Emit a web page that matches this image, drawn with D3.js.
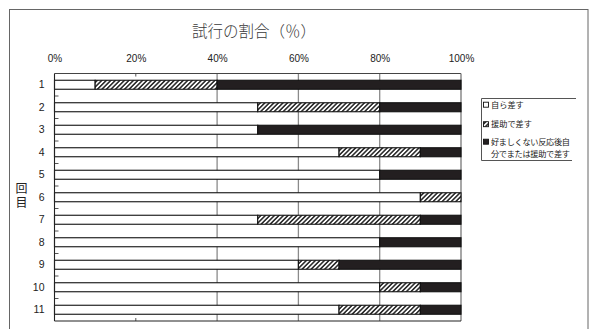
<!DOCTYPE html>
<html><head><meta charset="utf-8">
<script src="https://cdn.jsdelivr.net/npm/d3@7"></script>
<style>body{margin:0;background:#fff}svg{display:block}</style>
</head><body>
<svg id="chart" width="589" height="329"></svg>
<script>
// ---- data ----
const trials = ["1","2","3","4","5","6","7","8","9","10","11"];
const selfInsert    = [10,50,50,70,80,90,50,80,60,80,70];
const assisted      = [30,30, 0,20, 0,10,40, 0,10,10,20];
const afterNegative = [60,20,50,10,20, 0,10,20,30,10,10];
const seriesNames = ["自ら差す","援助で差す","好ましくない反応後自分でまたは援助で差す"];
const legendLines = [["自ら差す"],["援助で差す"],["好ましくない反応後自","分でまたは援助で差す"]];
const xTicks = [0,20,40,60,80,100];
const gridTicks = [40,60,80];
const chartTitle = "試行の割合（％）";
const yTitle = "回目";

// ---- build ----
const svg = d3.select("#chart");
const defs = svg.append("defs");
const pat = defs.append("pattern").attr("id","hatch").attr("patternUnits","userSpaceOnUse")
  .attr("width",3.2).attr("height",3.2).attr("patternTransform","rotate(45)");
pat.append("rect").attr("width",3.2).attr("height",3.2).attr("fill","#fff");
pat.append("line").attr("x1",0.8).attr("y1",0).attr("x2",0.8).attr("y2",3.2)
  .attr("stroke","#111").attr("stroke-width",1.4);

const fills = ["#fff","url(#hatch)","#231f20"];

// outer frame
svg.append("rect").attr("x",9.5).attr("y",9.5).attr("width",578.5).attr("height",330)
  .attr("fill","none").attr("stroke","#666").attr("stroke-width",1);

const x = d3.scaleLinear().domain([0,100]).range([54.5,461]);
const y = d3.scaleBand().domain(trials).range([73.5,321]).paddingInner(0.6).paddingOuter(0.3);
const step = y.step();

// title
svg.append("text").attr("x",254).attr("y",37).attr("text-anchor","middle")
  .attr("font-family","'Noto Sans CJK JP'").attr("font-size",15.5).attr("font-weight",300)
  .attr("fill","#3a3a3a").text(chartTitle);

// y axis title (vertical, one text)
svg.append("text").attr("x",21.5).attr("y",182)
  .style("writing-mode","vertical-rl").style("letter-spacing","2.5px")
  .attr("font-family","'Noto Sans CJK JP'").attr("font-size",12).attr("fill","#222").text(yTitle);

// gridlines
const [y0,y1] = y.range();
svg.append("g").selectAll("line").data(gridTicks).join("line")
  .attr("x1",d=>x(d)).attr("x2",d=>x(d)).attr("y1",y0).attr("y2",y1)
  .attr("stroke","#8a8a8a").attr("stroke-width",1.3);
// 20% small ticks at top and bottom
svg.append("g").selectAll("line").data([[y0,y0+3],[y1-3,y1]]).join("line")
  .attr("x1",x(20)).attr("x2",x(20)).attr("y1",d=>d[0]).attr("y2",d=>d[1])
  .attr("stroke","#555").attr("stroke-width",1);

// plot border top & right
svg.append("line").attr("x1",x(0)).attr("x2",x(100)).attr("y1",y0).attr("y2",y0).attr("stroke","#444").attr("stroke-width",1.2);
svg.append("line").attr("x1",x(100)).attr("x2",x(100)).attr("y1",y0).attr("y2",y1).attr("stroke","#777").attr("stroke-width",1.3);

// stacked bars
const rows = trials.map((t,i)=>({t, vals:[selfInsert[i],assisted[i],afterNegative[i]]}));
const gBars = svg.append("g");
rows.forEach(r=>{
  let acc = 0;
  r.vals.forEach((v,k)=>{
    if(v>0){
      gBars.append("rect").attr("x",x(acc)).attr("y",y(r.t)).attr("width",x(acc+v)-x(acc))
        .attr("height",y.bandwidth()).attr("fill",fills[k])
        .attr("stroke","#111").attr("stroke-width",1.1);
    }
    acc += v;
  });
});

// category ticks (inward) at band boundaries
svg.append("g").selectAll("line").data(d3.range(1,trials.length)).join("line")
  .attr("x1",x(0)).attr("x2",x(0)+4).attr("y1",d=>y0+d*step).attr("y2",d=>y0+d*step)
  .attr("stroke","#555").attr("stroke-width",1);

// left and bottom axis lines
svg.append("line").attr("x1",x(0)).attr("x2",x(0)).attr("y1",y0).attr("y2",y1).attr("stroke","#222").attr("stroke-width",1.1);
svg.append("line").attr("x1",x(0)).attr("x2",x(100)).attr("y1",y1).attr("y2",y1).attr("stroke","#222").attr("stroke-width",1.2);

// x axis labels (top)
const xAxis = d3.axisTop(x).tickValues(xTicks).tickFormat(d=>d+"%").tickSize(0).tickPadding(12);
const gx = svg.append("g").attr("transform",`translate(0,${y0})`).call(xAxis);
gx.select(".domain").remove();
gx.selectAll("text").attr("font-family","'Liberation Sans', Arial").attr("font-size",10).attr("fill","#222");

// y axis labels
const yAxis = d3.axisLeft(y).tickSize(0).tickPadding(10);
const gy = svg.append("g").attr("transform",`translate(${x(0)},0)`).call(yAxis);
gy.select(".domain").remove();
gy.selectAll("text").attr("font-family","'Liberation Sans', Arial").attr("font-size",10.5).attr("fill","#222");

// legend
const lg = svg.append("g");
lg.append("path").attr("d","M576,98.5 H481.5 V160.5 H572").attr("fill","none").attr("stroke","#555").attr("stroke-width",1);
const legendY = [105, 124.5, 142];
legendLines.forEach((lines,k)=>{
  lg.append("rect").attr("x",483.5).attr("y",legendY[k]-2.8).attr("width",5).attr("height",5)
    .attr("fill",fills[k]).attr("stroke","#111").attr("stroke-width",0.9);
  lines.forEach((ln,j)=>{
    lg.append("text").attr("x",491).attr("y",legendY[k]+j*12.3).attr("dy","0.35em")
      .attr("font-family","'Noto Sans CJK JP'").attr("font-size",8.2).attr("fill","#222")
      .attr("textLength", ln.length>6 ? 79 : null)
      .text(ln);
  });
});
</script>
</body></html>
